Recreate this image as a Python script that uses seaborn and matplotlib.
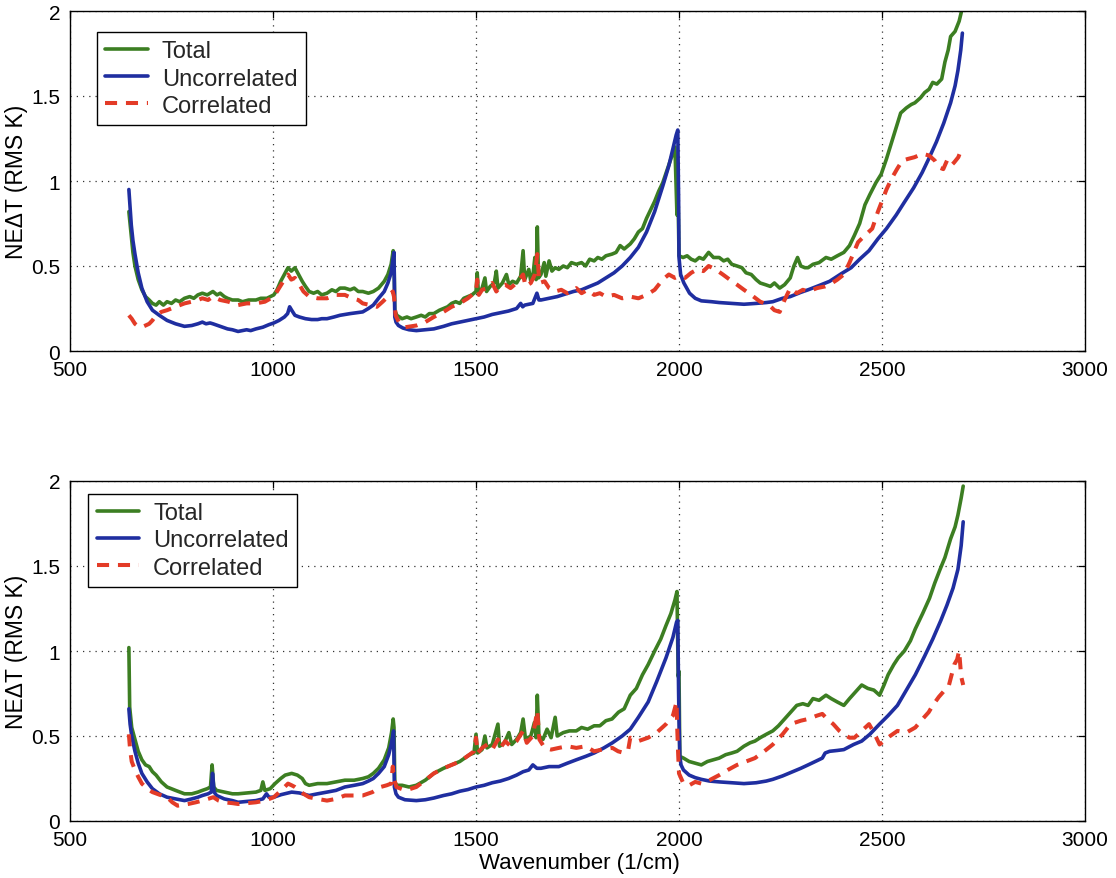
import matplotlib
matplotlib.use("Agg")
import matplotlib.pyplot as plt
import seaborn as sns
import pandas as pd

# ---------------- data ----------------
series_names = ["Total", "Uncorrelated", "Correlated"]
x_ticks = [500, 1000, 1500, 2000, 2500, 3000]
y_ticks = [0, 0.5, 1, 1.5, 2]
y_tick_labels = ["0", "0.5", "1", "1.5", "2"]

# ---- top panel ----
top_total_wn = [645, 650, 655, 660, 668, 677, 686, 695, 703, 712, 720, 730, 739, 750, 760, 770, 782, 795, 805, 815,
                826, 838, 852, 862, 870, 880, 888, 900, 914, 925, 940, 958, 970, 985, 1002, 1010, 1019, 1028, 1037,
                1045, 1054, 1063, 1072, 1080, 1089, 1100, 1110, 1120, 1133, 1145, 1155, 1165, 1177, 1190, 1200, 1210,
                1221, 1235, 1247, 1260, 1274, 1283, 1291, 1296, 1298, 1300, 1305, 1318, 1330, 1340, 1353, 1365, 1375,
                1385, 1396, 1410, 1420, 1430, 1440, 1450, 1460, 1470, 1480, 1490, 1500, 1503, 1506, 1515, 1522, 1526,
                1535, 1545, 1550, 1554, 1565, 1575, 1581, 1590, 1600, 1610, 1616, 1620, 1630, 1635, 1640, 1645, 1648,
                1651, 1654, 1660, 1668, 1672, 1680, 1687, 1695, 1704, 1715, 1725, 1735, 1747, 1760, 1770, 1780, 1791,
                1800, 1810, 1820, 1835, 1845, 1855, 1865, 1880, 1890, 1900, 1910, 1920, 1930, 1940, 1950, 1960, 1970,
                1980, 1990, 1995, 1998, 2000, 2010, 2020, 2030, 2040, 2050, 2060, 2073, 2085, 2099, 2110, 2120, 2130,
                2143, 2155, 2165, 2178, 2190, 2200, 2213, 2225, 2235, 2248, 2260, 2274, 2283, 2292, 2300, 2310, 2318,
                2330, 2345, 2362, 2375, 2390, 2406, 2420, 2432, 2445, 2458, 2470, 2485, 2498, 2511, 2520, 2530, 2546,
                2560, 2572, 2581, 2595, 2605, 2616, 2625, 2635, 2647, 2655, 2663, 2669, 2680, 2690, 2696]
top_total_val = [0.82, 0.70, 0.58, 0.50, 0.42, 0.36, 0.32, 0.30, 0.28, 0.27, 0.29, 0.27, 0.29, 0.28, 0.30, 0.29, 0.31,
                 0.32, 0.31, 0.33, 0.34, 0.33, 0.35, 0.33, 0.34, 0.32, 0.31, 0.30, 0.30, 0.29, 0.30, 0.30, 0.31, 0.31,
                 0.33, 0.36, 0.41, 0.45, 0.49, 0.47, 0.49, 0.45, 0.41, 0.38, 0.35, 0.34, 0.35, 0.33, 0.34, 0.36, 0.35,
                 0.37, 0.37, 0.36, 0.37, 0.35, 0.35, 0.34, 0.35, 0.37, 0.41, 0.45, 0.51, 0.59, 0.57, 0.24, 0.21, 0.19,
                 0.20, 0.19, 0.20, 0.21, 0.20, 0.22, 0.22, 0.24, 0.25, 0.26, 0.28, 0.29, 0.28, 0.31, 0.32, 0.33, 0.35,
                 0.46, 0.34, 0.37, 0.43, 0.35, 0.38, 0.40, 0.47, 0.37, 0.40, 0.45, 0.39, 0.41, 0.40, 0.44, 0.59, 0.42,
                 0.48, 0.41, 0.44, 0.55, 0.42, 0.73, 0.43, 0.45, 0.52, 0.44, 0.53, 0.47, 0.49, 0.48, 0.50, 0.49, 0.52,
                 0.51, 0.52, 0.50, 0.54, 0.53, 0.55, 0.54, 0.56, 0.57, 0.58, 0.62, 0.60, 0.63, 0.66, 0.70, 0.72, 0.78,
                 0.83, 0.88, 0.94, 0.99, 1.06, 1.13, 1.20, 0.80, 0.88, 0.56, 0.55, 0.56, 0.54, 0.53, 0.55, 0.54, 0.58,
                 0.55, 0.55, 0.53, 0.54, 0.51, 0.50, 0.49, 0.46, 0.45, 0.42, 0.40, 0.39, 0.38, 0.40, 0.37, 0.39, 0.43,
                 0.50, 0.55, 0.50, 0.49, 0.49, 0.51, 0.52, 0.55, 0.54, 0.56, 0.58, 0.62, 0.68, 0.75, 0.86, 0.92, 0.99,
                 1.04, 1.13, 1.20, 1.28, 1.40, 1.43, 1.45, 1.46, 1.49, 1.52, 1.54, 1.58, 1.57, 1.60, 1.70, 1.77, 1.85,
                 1.88, 1.94, 2.00]

top_unc_wn = [645, 648, 651, 655, 660, 668, 677, 690, 703, 720, 739, 760, 782, 800, 815, 826, 835, 845, 852, 870, 888,
              900, 914, 925, 935, 945, 958, 975, 990, 1002, 1015, 1028, 1036, 1041, 1046, 1054, 1065, 1080, 1095, 1110,
              1120, 1133, 1150, 1165, 1177, 1190, 1205, 1221, 1235, 1247, 1260, 1274, 1283, 1291, 1296, 1298, 1300,
              1303, 1309, 1320, 1335, 1353, 1375, 1396, 1420, 1440, 1460, 1480, 1500, 1520, 1540, 1560, 1580, 1600,
              1610, 1615, 1620, 1640, 1650, 1655, 1660, 1680, 1700, 1720, 1740, 1760, 1780, 1800, 1820, 1840, 1860,
              1880, 1900, 1920, 1940, 1960, 1975, 1985, 1993, 1997, 1999, 2000, 2004, 2012, 2026, 2040, 2055, 2080,
              2099, 2130, 2160, 2190, 2215, 2231, 2255, 2274, 2300, 2318, 2345, 2371, 2400, 2424, 2445, 2468, 2490,
              2511, 2535, 2555, 2578, 2599, 2615, 2634, 2652, 2669, 2680, 2687, 2694, 2698]
top_unc_val = [0.95, 0.84, 0.74, 0.65, 0.57, 0.46, 0.37, 0.29, 0.24, 0.21, 0.18, 0.16, 0.145, 0.15, 0.16, 0.17, 0.16,
               0.165, 0.16, 0.145, 0.13, 0.125, 0.115, 0.12, 0.125, 0.12, 0.13, 0.14, 0.155, 0.165, 0.18, 0.20, 0.22,
               0.26, 0.24, 0.21, 0.20, 0.19, 0.185, 0.185, 0.19, 0.19, 0.20, 0.21, 0.215, 0.22, 0.225, 0.23, 0.25,
               0.27, 0.31, 0.35, 0.40, 0.46, 0.55, 0.58, 0.20, 0.17, 0.15, 0.135, 0.125, 0.12, 0.125, 0.13, 0.145,
               0.16, 0.17, 0.18, 0.19, 0.20, 0.215, 0.225, 0.235, 0.25, 0.28, 0.26, 0.27, 0.28, 0.34, 0.30, 0.30,
               0.31, 0.32, 0.335, 0.35, 0.36, 0.38, 0.40, 0.43, 0.46, 0.50, 0.55, 0.61, 0.70, 0.82, 0.97, 1.09, 1.19,
               1.27, 1.30, 0.90, 0.55, 0.45, 0.40, 0.34, 0.31, 0.295, 0.29, 0.285, 0.28, 0.275, 0.28, 0.285, 0.29,
               0.31, 0.32, 0.345, 0.36, 0.385, 0.41, 0.455, 0.49, 0.54, 0.59, 0.66, 0.72, 0.80, 0.875, 0.96, 1.05,
               1.13, 1.23, 1.34, 1.46, 1.56, 1.65, 1.77, 1.87]

top_cor_wn = [645, 652, 660, 668, 677, 686, 695, 703, 712, 725, 739, 760, 782, 800, 815, 826, 840, 852, 870, 890, 914,
              935, 958, 980, 1002, 1015, 1028, 1037, 1045, 1054, 1065, 1075, 1089, 1110, 1133, 1155, 1177, 1195, 1210,
              1221, 1240, 1256, 1270, 1283, 1295, 1298, 1302, 1310, 1326, 1340, 1353, 1375, 1396, 1420, 1440, 1460,
              1480, 1500, 1503, 1507, 1515, 1528, 1540, 1550, 1560, 1572, 1585, 1600, 1616, 1622, 1635, 1645, 1651,
              1656, 1669, 1680, 1695, 1710, 1725, 1747, 1760, 1775, 1791, 1805, 1820, 1840, 1860, 1880, 1900, 1920,
              1940, 1960, 1975, 1990, 2000, 2015, 2030, 2045, 2060, 2073, 2090, 2108, 2125, 2143, 2160, 2178, 2200,
              2222, 2235, 2248, 2260, 2274, 2290, 2305, 2318, 2340, 2360, 2371, 2390, 2406, 2420, 2441, 2458, 2476,
              2490, 2511, 2525, 2537, 2550, 2564, 2580, 2600, 2616, 2630, 2640, 2651, 2660, 2670, 2678, 2688, 2696]
top_cor_val = [0.21, 0.19, 0.16, 0.145, 0.14, 0.15, 0.16, 0.18, 0.21, 0.23, 0.24, 0.26, 0.28, 0.29, 0.30, 0.31, 0.30,
               0.32, 0.30, 0.29, 0.27, 0.28, 0.28, 0.29, 0.32, 0.37, 0.42, 0.45, 0.42, 0.43, 0.39, 0.35, 0.32, 0.31,
               0.31, 0.33, 0.33, 0.31, 0.30, 0.28, 0.27, 0.26, 0.29, 0.32, 0.35, 0.32, 0.21, 0.17, 0.14, 0.145, 0.15,
               0.17, 0.20, 0.23, 0.26, 0.28, 0.31, 0.35, 0.42, 0.33, 0.36, 0.37, 0.40, 0.35, 0.38, 0.39, 0.37, 0.40,
               0.45, 0.38, 0.40, 0.45, 0.57, 0.40, 0.41, 0.37, 0.35, 0.36, 0.34, 0.37, 0.34, 0.36, 0.33, 0.34, 0.32,
               0.33, 0.31, 0.32, 0.31, 0.33, 0.36, 0.42, 0.45, 0.43, 0.44, 0.43, 0.46, 0.48, 0.47, 0.50, 0.48, 0.45,
               0.42, 0.39, 0.36, 0.33, 0.29, 0.27, 0.24, 0.23, 0.30, 0.37, 0.34, 0.36, 0.35, 0.37, 0.38, 0.39, 0.42,
               0.45, 0.52, 0.64, 0.68, 0.72, 0.82, 0.95, 1.02, 1.07, 1.12, 1.13, 1.14, 1.16, 1.15, 1.12, 1.08, 1.07,
               1.12, 1.09, 1.11, 1.14, 1.19]

# ---- bottom panel ----
bot_total_wn = [645, 647, 652, 660, 668, 677, 686, 695, 703, 712, 725, 739, 760, 782, 800, 815, 826, 838, 846, 850, 854,
                861, 880, 900, 914, 935, 958, 970, 975, 980, 993, 1005, 1019, 1030, 1046, 1060, 1072, 1080, 1089, 1110,
                1133, 1155, 1177, 1200, 1221, 1235, 1247, 1260, 1274, 1285, 1292, 1296, 1298, 1300, 1305, 1318, 1335,
                1353, 1375, 1396, 1420, 1440, 1460, 1484, 1495, 1500, 1504, 1515, 1522, 1527, 1540, 1554, 1558, 1570,
                1581, 1588, 1600, 1610, 1616, 1622, 1635, 1644, 1648, 1651, 1655, 1665, 1675, 1685, 1695, 1700, 1715,
                1730, 1747, 1760, 1775, 1791, 1805, 1820, 1835, 1851, 1865, 1880, 1895, 1910, 1924, 1940, 1955, 1968,
                1980, 1990, 1995, 1998, 2000, 2002, 2011, 2025, 2040, 2055, 2070, 2085, 2099, 2115, 2130, 2143, 2160,
                2175, 2187, 2200, 2215, 2231, 2245, 2260, 2275, 2290, 2305, 2318, 2330, 2345, 2362, 2375, 2390, 2406,
                2420, 2435, 2450, 2465, 2480, 2494, 2505, 2515, 2529, 2540, 2555, 2570, 2582, 2600, 2617, 2630, 2643,
                2655, 2669, 2680, 2687, 2695, 2700]
bot_total_val = [1.02, 0.67, 0.55, 0.48, 0.41, 0.36, 0.33, 0.32, 0.29, 0.27, 0.23, 0.20, 0.18, 0.16, 0.16, 0.17, 0.18,
                 0.19, 0.20, 0.33, 0.20, 0.18, 0.17, 0.16, 0.16, 0.165, 0.17, 0.18, 0.23, 0.18, 0.19, 0.22, 0.25, 0.27,
                 0.28, 0.27, 0.25, 0.22, 0.21, 0.22, 0.22, 0.23, 0.24, 0.24, 0.25, 0.26, 0.28, 0.31, 0.36, 0.43, 0.52,
                 0.60, 0.55, 0.23, 0.21, 0.21, 0.20, 0.21, 0.24, 0.28, 0.31, 0.33, 0.35, 0.39, 0.40, 0.51, 0.40, 0.42,
                 0.50, 0.43, 0.45, 0.57, 0.44, 0.46, 0.52, 0.45, 0.48, 0.52, 0.60, 0.48, 0.50, 0.58, 0.49, 0.74, 0.50,
                 0.48, 0.54, 0.49, 0.61, 0.50, 0.52, 0.53, 0.53, 0.55, 0.54, 0.56, 0.56, 0.59, 0.60, 0.64, 0.66, 0.74,
                 0.78, 0.86, 0.92, 1.00, 1.07, 1.15, 1.22, 1.30, 1.35, 0.85, 0.88, 0.38, 0.37, 0.35, 0.34, 0.33, 0.35,
                 0.36, 0.37, 0.39, 0.40, 0.41, 0.44, 0.46, 0.47, 0.49, 0.51, 0.53, 0.56, 0.60, 0.64, 0.68, 0.69, 0.68,
                 0.72, 0.71, 0.74, 0.72, 0.70, 0.68, 0.72, 0.76, 0.80, 0.78, 0.77, 0.74, 0.80, 0.86, 0.92, 0.96, 1.00,
                 1.06, 1.13, 1.22, 1.31, 1.40, 1.48, 1.55, 1.66, 1.73, 1.80, 1.90, 1.97]

bot_unc_wn = [645, 648, 652, 660, 668, 677, 690, 703, 720, 739, 760, 782, 800, 815, 826, 840, 848, 851, 855, 861, 880,
              900, 914, 935, 958, 975, 984, 990, 1002, 1020, 1046, 1065, 1089, 1110, 1133, 1155, 1177, 1200, 1221,
              1235, 1247, 1260, 1274, 1285, 1291, 1295, 1297, 1299, 1303, 1309, 1325, 1353, 1375, 1396, 1420, 1440,
              1460, 1480, 1500, 1520, 1540, 1560, 1580, 1600, 1616, 1630, 1640, 1650, 1660, 1680, 1704, 1725, 1747,
              1770, 1791, 1815, 1836, 1860, 1880, 1900, 1924, 1945, 1968, 1985, 1994, 1997, 1999, 2000, 2002, 2005,
              2011, 2025, 2040, 2055, 2075, 2099, 2130, 2160, 2190, 2215, 2231, 2255, 2275, 2300, 2318, 2340, 2353,
              2360, 2371, 2390, 2406, 2430, 2450, 2470, 2494, 2515, 2538, 2560, 2582, 2605, 2625, 2645, 2660, 2675,
              2687, 2695, 2700]
bot_unc_val = [0.66, 0.57, 0.50, 0.41, 0.34, 0.28, 0.23, 0.19, 0.16, 0.14, 0.13, 0.12, 0.13, 0.14, 0.15, 0.16, 0.17,
               0.28, 0.17, 0.15, 0.13, 0.12, 0.11, 0.115, 0.12, 0.13, 0.16, 0.14, 0.14, 0.155, 0.17, 0.165, 0.15, 0.16,
               0.17, 0.18, 0.20, 0.21, 0.22, 0.235, 0.25, 0.28, 0.32, 0.39, 0.45, 0.50, 0.53, 0.20, 0.16, 0.14, 0.125,
               0.12, 0.125, 0.135, 0.15, 0.16, 0.175, 0.185, 0.20, 0.21, 0.225, 0.235, 0.25, 0.27, 0.29, 0.30, 0.33,
               0.31, 0.31, 0.32, 0.32, 0.34, 0.36, 0.38, 0.40, 0.43, 0.46, 0.50, 0.54, 0.61, 0.70, 0.82, 0.96, 1.08,
               1.17, 1.18, 0.76, 0.60, 0.38, 0.33, 0.30, 0.27, 0.255, 0.245, 0.235, 0.23, 0.225, 0.22, 0.225, 0.235,
               0.245, 0.265, 0.285, 0.31, 0.33, 0.355, 0.37, 0.40, 0.41, 0.415, 0.42, 0.45, 0.47, 0.51, 0.57, 0.62,
               0.68, 0.77, 0.86, 0.97, 1.07, 1.18, 1.27, 1.37, 1.48, 1.62, 1.76]

bot_cor_wn = [645, 648, 652, 660, 668, 677, 690, 703, 720, 739, 752, 765, 778, 791, 810, 826, 840, 853, 866, 879, 900,
              914, 935, 958, 980, 1002, 1020, 1037, 1046, 1054, 1065, 1075, 1089, 1110, 1133, 1155, 1177, 1200, 1221,
              1245, 1265, 1280, 1291, 1295, 1298, 1304, 1315, 1326, 1340, 1353, 1375, 1396, 1420, 1440, 1460, 1484,
              1495, 1500, 1504, 1515, 1528, 1540, 1554, 1560, 1572, 1585, 1600, 1616, 1625, 1640, 1651, 1656, 1669,
              1685, 1704, 1725, 1747, 1770, 1791, 1810, 1836, 1850, 1865, 1875, 1880, 1900, 1924, 1945, 1968, 1985,
              1994, 1996, 1998, 2000, 2011, 2025, 2040, 2055, 2075, 2099, 2120, 2143, 2165, 2187, 2210, 2231, 2255,
              2275, 2300, 2318, 2340, 2353, 2365, 2380, 2395, 2406, 2420, 2432, 2450, 2468, 2480, 2494, 2505, 2520,
              2538, 2560, 2582, 2600, 2615, 2625, 2640, 2651, 2665, 2678, 2685, 2690, 2695, 2700]
bot_cor_val = [0.51, 0.42, 0.35, 0.30, 0.26, 0.22, 0.19, 0.17, 0.155, 0.14, 0.11, 0.09, 0.095, 0.10, 0.11, 0.12, 0.13,
               0.14, 0.12, 0.11, 0.105, 0.10, 0.105, 0.11, 0.12, 0.14, 0.18, 0.22, 0.21, 0.20, 0.18, 0.16, 0.14, 0.13,
               0.12, 0.13, 0.15, 0.15, 0.15, 0.17, 0.20, 0.21, 0.22, 0.32, 0.25, 0.20, 0.19, 0.18, 0.19, 0.20, 0.24,
               0.28, 0.31, 0.33, 0.35, 0.39, 0.41, 0.49, 0.40, 0.43, 0.45, 0.42, 0.48, 0.43, 0.47, 0.44, 0.47, 0.53,
               0.46, 0.50, 0.65, 0.48, 0.43, 0.42, 0.43, 0.44, 0.43, 0.44, 0.41, 0.42, 0.43, 0.41, 0.40, 0.42, 0.49,
               0.47, 0.49, 0.52, 0.57, 0.62, 0.70, 0.52, 0.39, 0.28, 0.22, 0.21, 0.23, 0.22, 0.24, 0.27, 0.30, 0.33,
               0.35, 0.37, 0.41, 0.45, 0.51, 0.57, 0.59, 0.60, 0.62, 0.63, 0.60, 0.57, 0.53, 0.51, 0.49, 0.49, 0.53,
               0.57, 0.52, 0.45, 0.47, 0.50, 0.53, 0.52, 0.55, 0.60, 0.64, 0.68, 0.73, 0.76, 0.80, 0.92, 0.95, 1.00,
               0.85, 0.80]

# ---------------- styling ----------------
sns.set_theme(style="white")
plt.rcParams['font.family'] = ['Liberation Sans', 'DejaVu Sans']

colors = {"Total": "#3c7e22", "Uncorrelated": "#1f2ea0", "Correlated": "#e33b27"}
styles = {"Total": "-", "Uncorrelated": "-", "Correlated": (0, (3.0, 2.2))}
widths = {"Total": 2.6, "Uncorrelated": 2.6, "Correlated": 2.9}

W, H = 1116, 879
fig = plt.figure(figsize=(W / 100, H / 100), dpi=100)
fig.patch.set_facecolor("white")
ax_top = fig.add_axes([70 / W, (H - 352) / H, 1015 / W, 340 / H])
ax_bot = fig.add_axes([70 / W, (H - 822) / H, 1015 / W, 340 / H])

panels = [
    (ax_top, [(top_total_wn, top_total_val), (top_unc_wn, top_unc_val), (top_cor_wn, top_cor_val)], (0.0266, 0.938)),
    (ax_bot, [(bot_total_wn, bot_total_val), (bot_unc_wn, bot_unc_val), (bot_cor_wn, bot_cor_val)], (0.018, 0.962)),
]

for ax, data, leg_anchor in panels:
    for name, (wn, val) in zip(series_names, data):
        df = pd.DataFrame({"Wavenumber": wn, "NEdT": val})
        sns.lineplot(data=df, x="Wavenumber", y="NEdT", ax=ax, sort=False, estimator=None,
                     color=colors[name], linewidth=widths[name], linestyle=styles[name], label=name)
    ax.set_xlim(500, 3000)
    ax.set_ylim(0, 2)
    ax.set_xticks(x_ticks)
    ax.set_xticklabels([str(t) for t in x_ticks])
    ax.set_yticks(y_ticks)
    ax.set_yticklabels(y_tick_labels)
    ax.grid(True, linestyle=(0, (1, 4)), color="#333333", linewidth=0.9)
    ax.tick_params(direction="in", top=True, right=True, length=5, width=0.9,
                   labelsize=15, colors="black")
    ax.tick_params(axis="x", pad=6.5)
    ax.tick_params(axis="y", pad=7)
    for sp in ax.spines.values():
        sp.set_color("black")
        sp.set_linewidth(1.0)
    ax.set_ylabel("NE\u0394T (RMS K)", fontsize=16.5, color="black")
    ax.yaxis.set_label_coords(-0.041, 0.5)
    ax.set_xlabel("")
    leg = ax.legend(loc="upper left", bbox_to_anchor=leg_anchor, borderaxespad=0, frameon=True,
                    fancybox=False, edgecolor="black", framealpha=1, fontsize=17,
                    handlelength=1.8, handletextpad=0.6, labelspacing=0.22, borderpad=0.35)
    leg.get_frame().set_linewidth(1.0)

ax_bot.set_xlabel("Wavenumber (1/cm)", fontsize=16, color="black")
ax_bot.xaxis.set_label_coords(0.502, -0.09)

fig.savefig("out.png", dpi=100, facecolor="white")
